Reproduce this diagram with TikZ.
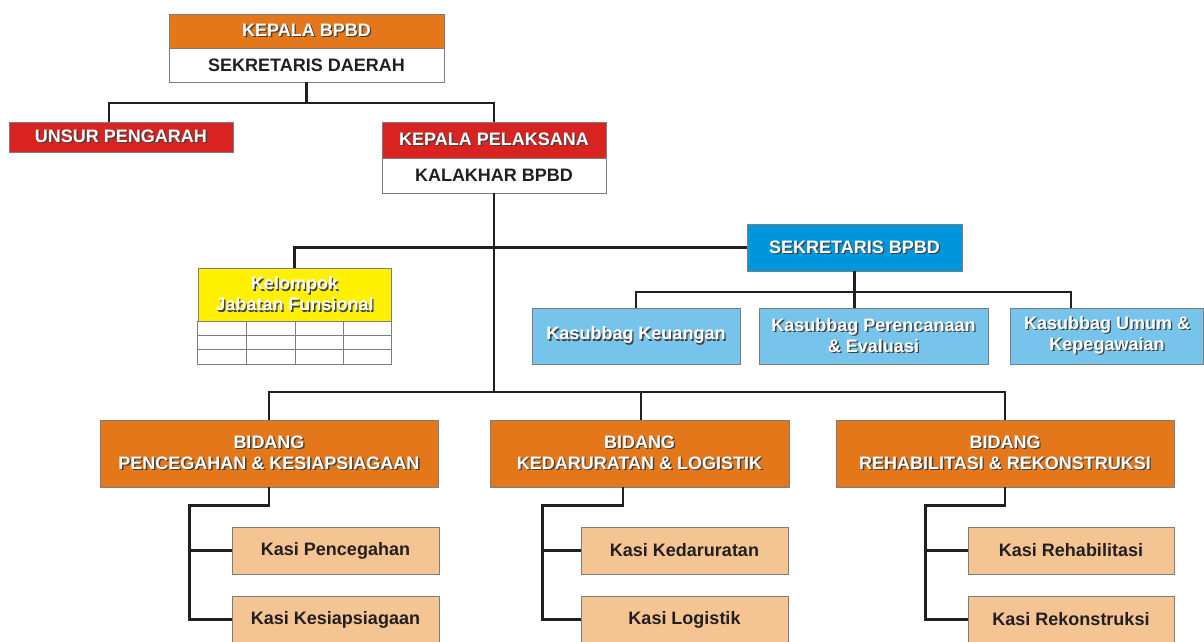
\documentclass[tikz,border=0pt]{standalone}
\usepackage{fontspec}
\setmainfont{Liberation Sans}
\definecolor{bpbdorange}{RGB}{228,119,26}
\definecolor{bpbdred}{RGB}{216,35,32}
\definecolor{bpbdblue}{RGB}{0,150,219}
\definecolor{bpbdsky}{RGB}{118,196,236}
\definecolor{bpbdyellow}{RGB}{255,240,0}
\definecolor{bpbdpeach}{RGB}{245,196,147}
\definecolor{bpbdline}{RGB}{35,31,32}
\definecolor{bpbdframe}{RGB}{125,125,125}
\newcommand{\shtext}[1]{\makebox[0pt][l]{\hspace{1.4pt}\raisebox{-1.4pt}{\textcolor{black!75}{#1}}}#1}

\tikzset{
  unit/.style={draw=bpbdframe, line width=0.9pt, inner sep=0pt, align=center,
    font=\fontsize{18}{21}\selectfont\bfseries},
  lit/.style={unit, text=white},
  dark/.style={unit, text=bpbdline},
  link/.style={draw=bpbdline, line width=2.2pt},
}

\begin{document}
\begin{tikzpicture}[x=1pt,y=-1pt]
\useasboundingbox (0,0) rectangle (1204,641);
\clip (0,0) rectangle (1204,641);

% Top level
\node[lit, fill=bpbdorange, minimum width=275pt, minimum height=34pt] (kepala) at (306.5,31) {\shtext{KEPALA BPBD}};
\node[dark, fill=white, minimum width=275pt, minimum height=34pt] (sekda) at (306.5,65) {SEKRETARIS DAERAH};

% Second level
\node[lit, fill=bpbdred, minimum width=224pt, minimum height=30pt] (unsur) at (121,137) {\shtext{UNSUR PENGARAH}};
\node[lit, fill=bpbdred, minimum width=224pt, minimum height=36pt] (pelaksana) at (494,140) {\shtext{KEPALA PELAKSANA}};
\node[dark, fill=white, minimum width=224pt, minimum height=35pt] (kalakhar) at (494,175.5) {KALAKHAR BPBD};

% Sekretariat
\node[lit, fill=bpbdblue, minimum width=215pt, minimum height=47pt] (sekbpbd) at (854.5,247.5) {\shtext{SEKRETARIS BPBD}};
\node[lit, fill=bpbdsky, minimum width=208pt, minimum height=56pt] (keuangan) at (636,336) {\shtext{Kasubbag Keuangan}};
\node[lit, fill=bpbdsky, minimum width=229pt, minimum height=56pt] (perencanaan) at (873.5,336) {\shtext{Kasubbag Perencanaan}\\\shtext{\& Evaluasi}};
\node[lit, fill=bpbdsky, minimum width=193pt, minimum height=56pt] (umum) at (1107,336) {\shtext{Kasubbag Umum \&}\\\shtext{Kepegawaian}};

% Jabatan fungsional
\node[lit, fill=bpbdyellow, minimum width=193pt, minimum height=53pt] (kelompok) at (294.5,294.5) {\shtext{Kelompok}\\\shtext{Jabatan Funsional}};
\draw[draw=bpbdframe, line width=0.9pt] (kelompok.south west) rectangle (391,364);
\foreach \r in {335,349} \draw[draw=bpbdframe, line width=0.9pt] (198,\r) -- (391,\r);
\foreach \c in {246,295,343} \draw[draw=bpbdframe, line width=0.9pt] (\c,321) -- (\c,364);

% Bidang
\node[lit, fill=bpbdorange, minimum width=338pt, minimum height=67pt] (bidang1) at (269,453.5) {\shtext{BIDANG}\\\shtext{PENCEGAHAN \& KESIAPSIAGAAN}};
\node[lit, fill=bpbdorange, minimum width=299pt, minimum height=67pt] (bidang2) at (639.5,453.5) {\shtext{BIDANG}\\\shtext{KEDARURATAN \& LOGISTIK}};
\node[lit, fill=bpbdorange, minimum width=338pt, minimum height=67pt] (bidang3) at (1005,453.5) {\shtext{BIDANG}\\\shtext{REHABILITASI \& REKONSTRUKSI}};

% Seksi
\node[dark, fill=bpbdpeach, minimum width=207pt, minimum height=47pt] (kasi1a) at (335.5,550.5) {Kasi Pencegahan};
\node[dark, fill=bpbdpeach, minimum width=207pt, minimum height=47pt] (kasi1b) at (335.5,619.5) {Kasi Kesiapsiagaan};
\node[dark, fill=bpbdpeach, minimum width=207pt, minimum height=47pt] (kasi2a) at (684.5,550.5) {Kasi Kedaruratan};
\node[dark, fill=bpbdpeach, minimum width=207pt, minimum height=47pt] (kasi2b) at (684.5,619.5) {Kasi Logistik};
\node[dark, fill=bpbdpeach, minimum width=206pt, minimum height=47pt] (kasi3a) at (1071,550.5) {Kasi Rehabilitasi};
\node[dark, fill=bpbdpeach, minimum width=206pt, minimum height=47pt] (kasi3b) at (1071,619.5) {Kasi Rekonstruksi};

% Connectors
\coordinate (top) at (306.5,103);
\coordinate (bus) at (494,392);
\coordinate (sek) at (854.5,292);
\draw[link] (sekda.south) -- (top) -| ([xshift=-12pt]unsur.north);
\draw[link] (top) -| (pelaksana.north);
\draw[link] (kalakhar.south) -- (bus);
\draw[link] (kelompok.north) |- (sekbpbd.west);
\draw[link] (bidang1.north) |- (bus) -| (bidang3.north);
\draw[link] ([xshift=1.5pt]bidang2.north) -- ([xshift=1.5pt]bidang2.north |- bus);
\draw[link] (sekbpbd.south) -- (sekbpbd.south |- perencanaan.north);
\draw[link] (keuangan.north) |- (sek) -| ([xshift=-36pt]umum.north);

\draw[link] (bidang1.south) -- ++(0,18) -| ([xshift=-42pt]kasi1b.west) -- (kasi1b.west);
\draw[link] ([xshift=-42pt]kasi1a.west) -- (kasi1a.west);
\draw[link] ([xshift=-16.5pt]bidang2.south) -- ++(0,18) -| ([xshift=-38pt]kasi2b.west) -- (kasi2b.west);
\draw[link] ([xshift=-38pt]kasi2a.west) -- (kasi2a.west);
\draw[link] (bidang3.south) -- ++(0,18) -| ([xshift=-42pt]kasi3b.west) -- (kasi3b.west);
\draw[link] ([xshift=-42pt]kasi3a.west) -- (kasi3a.west);
\end{tikzpicture}
\end{document}
